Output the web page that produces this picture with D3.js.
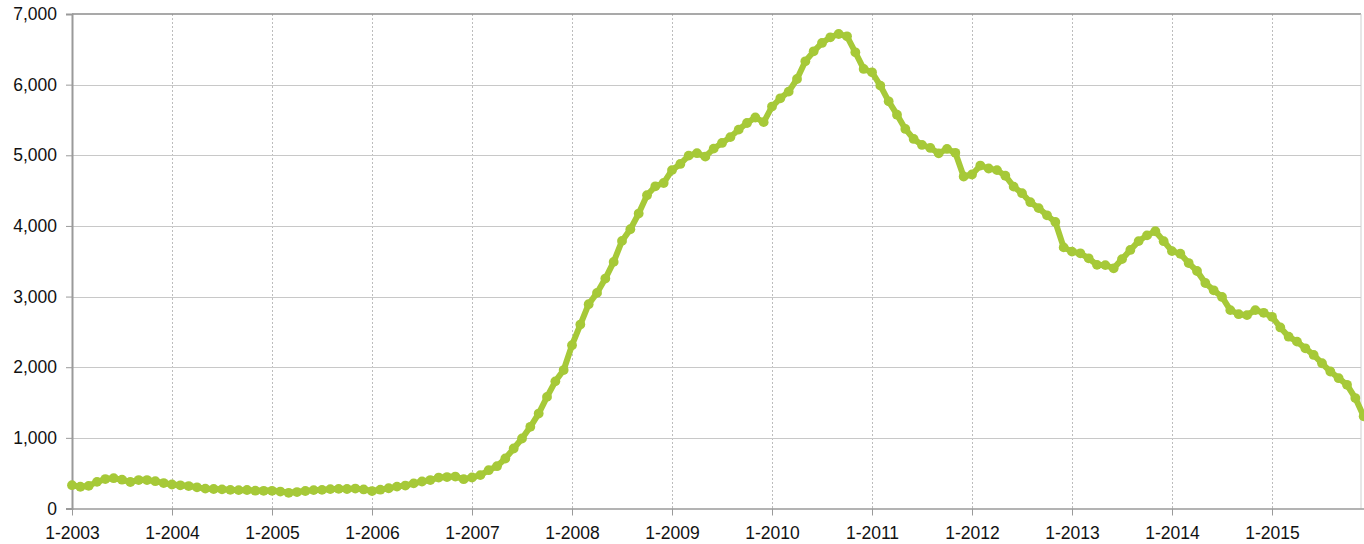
<!DOCTYPE html>
<html>
<head>
<meta charset="utf-8">
<script src="https://cdn.jsdelivr.net/npm/d3@7"></script>
<style>
  html, body { margin: 0; padding: 0; background: #fff; }
  svg { display: block; }
  text { font-family: "Liberation Sans", Arial, Helvetica, sans-serif; fill: #111; }
</style>
</head>
<body>
<svg id="chart" width="1364" height="544"></svg>
<script>
// ---- data ----
const years = [2003, 2004, 2005, 2006, 2007, 2008, 2009, 2010, 2011, 2012, 2013, 2014, 2015];
const months = [1, 2, 3, 4, 5, 6, 7, 8, 9, 10, 11, 12];
const categories = years.flatMap(yr => months.map(m => m + "-" + yr));
const values = [
  330, 308, 320, 377, 417, 429, 408, 375, 403, 403, 387, 360,
  340, 328, 318, 300, 281, 276, 271, 264, 260, 262, 252, 250,
  250, 240, 222, 233, 248, 260, 264, 274, 278, 276, 282, 270,
  247, 266, 287, 310, 325, 356, 382, 403, 438, 445, 452, 415,
  439, 472, 542, 599, 708, 849, 991, 1156, 1344, 1580, 1800, 1960,
  2311, 2604, 2892, 3052, 3255, 3491, 3788, 3953, 4175, 4434, 4561, 4608,
  4790, 4877, 4995, 5030, 4981, 5094, 5175, 5257, 5363, 5457, 5535, 5469,
  5690, 5807, 5901, 6080, 6330, 6472, 6590, 6670, 6717, 6684, 6458, 6222,
  6175, 5986, 5764, 5575, 5373, 5231, 5146, 5104, 5028, 5090, 5035, 4700,
  4728, 4855, 4813, 4790, 4710, 4556, 4463, 4336, 4252, 4150, 4056, 3696,
  3636, 3612, 3542, 3449, 3445, 3400, 3530, 3660, 3785, 3866, 3925, 3784,
  3643, 3606, 3474, 3362, 3192, 3089, 2995, 2808, 2751, 2737, 2808, 2770,
  2714, 2563, 2432, 2362, 2268, 2174, 2056, 1939, 1845, 1751, 1563, 1305
];
const yTicks = [0, 1000, 2000, 3000, 4000, 5000, 6000, 7000];
const xTickLabels = categories.filter(c => c.startsWith("1-"));

// ---- layout ----
const plotLeft = 72, plotTop = 14, plotBottom = 508.5, frameRight = 1361;
const monthStep = 100 / 12;
const svg = d3.select("#chart");

const x = d3.scalePoint().domain(categories).range([plotLeft, plotLeft + (categories.length - 1) * monthStep]);
const y = d3.scaleLinear().domain([0, 7000]).range([plotBottom, plotTop]);

// vertical dotted grid
svg.append("g").selectAll("line").data(xTickLabels.slice(1)).join("line")
  .attr("x1", d => Math.round(x(d)) + 0.5).attr("x2", d => Math.round(x(d)) + 0.5)
  .attr("y1", plotTop).attr("y2", plotBottom)
  .attr("stroke", "#bdbdbd").attr("stroke-width", 1).attr("stroke-dasharray", "2,2");

// horizontal grid
svg.append("g").selectAll("line").data(yTicks.slice(1, -1)).join("line")
  .attr("x1", plotLeft).attr("x2", frameRight)
  .attr("y1", d => Math.round(y(d)) + 0.5).attr("y2", d => Math.round(y(d)) + 0.5)
  .attr("stroke", "#c8c8c8").attr("stroke-width", 1);

// frame: top and right
svg.append("line").attr("x1", plotLeft).attr("x2", frameRight).attr("y1", plotTop).attr("y2", plotTop)
  .attr("stroke", "#8c8c8c").attr("stroke-width", 1.5);
svg.append("line").attr("x1", frameRight).attr("x2", frameRight).attr("y1", plotTop).attr("y2", plotBottom)
  .attr("stroke", "#cfcfcf").attr("stroke-width", 1);

// y axis
const yAxis = svg.append("g").attr("transform", `translate(${plotLeft},0)`)
  .call(d3.axisLeft(y).tickValues(yTicks).tickSize(6).tickPadding(9).tickFormat(d3.format(",")));
yAxis.select(".domain").attr("stroke", "#9a9a9a").attr("stroke-width", 2);
yAxis.selectAll(".tick line").attr("stroke", "#9a9a9a");
yAxis.selectAll("text").style("font-size", "17.5px").attr("fill", "#111");

// x axis
const xAxis = svg.append("g").attr("transform", `translate(0,${plotBottom})`)
  .call(d3.axisBottom(x).tickValues(xTickLabels).tickSize(7).tickPadding(11).tickSizeOuter(0));
xAxis.select(".domain").attr("stroke", "#9a9a9a").attr("stroke-width", 1.5);
xAxis.selectAll(".tick line").attr("stroke", "#9a9a9a");
xAxis.selectAll("text").style("font-size", "17.5px").attr("fill", "#111");

// line + markers
const color = "#a6c938";
const data = categories.map((c, i) => ({ c, v: values[i] }));
svg.append("path").datum(data)
  .attr("fill", "none").attr("stroke", color).attr("stroke-width", 6)
  .attr("stroke-linejoin", "round").attr("stroke-linecap", "round")
  .attr("d", d3.line().x(d => x(d.c)).y(d => y(d.v)));
svg.append("g").selectAll("circle").data(data).join("circle")
  .attr("cx", d => x(d.c)).attr("cy", d => y(d.v)).attr("r", 4.9).attr("fill", color);
</script>
</body>
</html>
